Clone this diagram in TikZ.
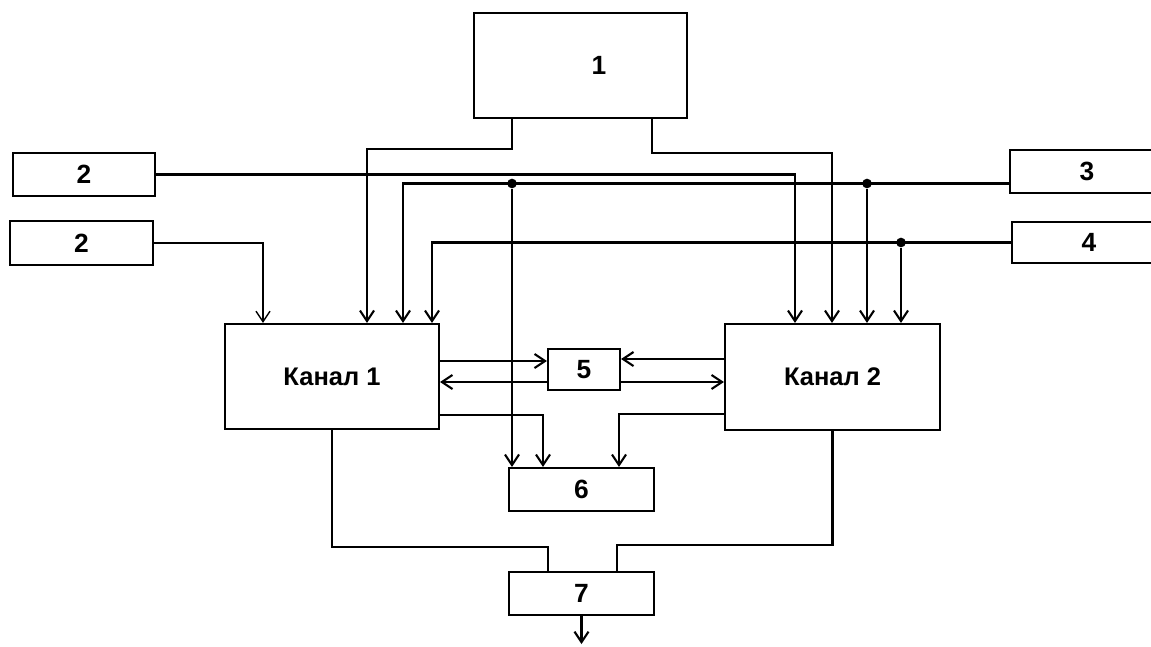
\documentclass[tikz,border=0pt]{standalone}
\usepackage{fontspec}
\setmainfont{Liberation Sans}
\usetikzlibrary{arrows.meta}
\usetikzlibrary{positioning}
\usetikzlibrary{calc}

\begin{document}
\begin{tikzpicture}[x=0.02cm, y=-0.02cm, line width=1.2pt,
    num/.style={font=\bfseries\fontsize{15}{17}\selectfont},
    blk/.style={draw, rectangle, inner sep=0pt, num},
    chan/.style={blk, minimum width=4.28cm, minimum height=2.1cm, font=\bfseries\fontsize{14.5}{17}\selectfont},
    arr/.style={-{Straight Barb[length=6pt, width=8pt]}},
    dot/.style={circle, fill=black, inner sep=0pt, minimum size=5.5pt}]
        % Fix the frame of the picture
        \path[use as bounding box, clip] (0,0) rectangle (1151,646);

        % Define the columns where the lines run
        \foreach \n/\x in {c1/263, c2/367, c3/403, c4/432, c5/795, c6/832, c7/867, c8/901,
                           d1/512, d2/652, e1/543, e2/619, f1/548, f2/617}
        {
          \coordinate (\n) at (\x,0);
        }

        % Draw the blocks
        \node[blk, minimum width=4.26cm, minimum height=2.1cm, label={[num, xshift=0.37cm]center:1}] (b1) at (580.5,65.5) {};
        \node[blk, minimum width=2.84cm, minimum height=0.86cm] (b2a) at (84,174.5) {2};
        \node[blk, minimum width=2.86cm, minimum height=0.88cm] (b2b) at (81.5,243) {2};
        \node[blk, minimum width=3.08cm, minimum height=0.86cm] (b3) at (1087,171.5) {3};
        \node[blk, minimum width=3.08cm, minimum height=0.82cm] (b4) at (1089,242.5) {4};
        \node[chan] (k1) at (332,376.5) {Канал 1};
        \node[chan, minimum width=4.3cm, minimum height=2.12cm] (k2) at (832.5,377) {Канал 2};
        \node[blk, minimum width=1.44cm, minimum height=0.82cm] (b5) at (584,369.5) {5};
        \node[blk, minimum width=2.9cm, minimum height=0.86cm] (b6) at (581.5,489.5) {6};
        \node[blk, minimum width=2.9cm, minimum height=0.86cm] (b7) at (581.5,593.5) {7};

        % Block 1 feeds both channels
        \draw[arr] (b1.south -| d1) -- ++(0,30) -| (k1.north -| c2);
        \draw[arr] (b1.south -| d2) -- ++(0,34) -| (k2.north -| c6);

        % Blocks 2
        \draw[arr] (b2a.east) -| (k2.north -| c5);
        \draw[arr, line width=0.8pt] (b2b.east) -| (k1.north -| c1);

        % Block 3 with its branch points
        \coordinate (r3) at ([yshift=-0.24cm]b3.west);
        \draw[arr] (r3) -| (k1.north -| c3);
        \node[dot] (j1) at (r3 -| d1) {};
        \node[dot] (j2) at (r3 -| c7) {};
        \draw[arr] (j1) -- (b6.north -| j1);
        \draw[arr] (j2) -- (k2.north -| j2);

        % Block 4 with its branch point
        \draw[arr] (b4.west) -| (k1.north -| c4);
        \node[dot] (j3) at (b4.west -| c8) {};
        \draw[arr] (j3) -- (k2.north -| j3);

        % Links with block 5
        \coordinate (u1) at ([yshift=0.17cm]b5.west);
        \coordinate (u2) at ([yshift=-0.25cm]b5.west);
        \coordinate (u3) at ([yshift=0.21cm]b5.east);
        \coordinate (u4) at ([yshift=-0.25cm]b5.east);
        \draw[arr] (k1.east |- u1) -- (u1);
        \draw[arr] (u2) -- (k1.east |- u2);
        \draw[arr] (k2.west |- u3) -- (u3);
        \draw[arr] (u4) -- (k2.west |- u4);

        % Channels to block 6
        \draw[arr] ([yshift=-0.77cm]k1.east) -| (b6.north -| e1);
        \draw[arr] ([yshift=-0.74cm]k2.west) -| (b6.north -| e2);

        % Channels to block 7 and its output
        \draw (k1.south) -- ++(0,117) -| (b7.north -| f1);
        \draw (k2.south) -- ++(0,114) -| (b7.north -| f2);
        \draw[arr] (b7.south) -- ++(0,28);
      \end{tikzpicture}
\end{document}
